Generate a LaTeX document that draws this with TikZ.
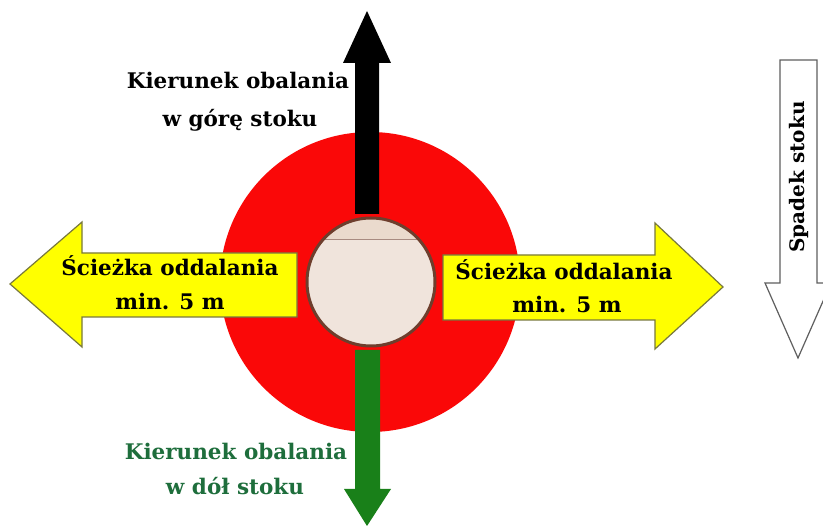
\documentclass[tikz,border=0pt]{standalone}
\usepackage{fontspec}
\setmainfont{DejaVu Serif}
\definecolor{redzone}{RGB}{250,8,8}
\definecolor{arrowgreen}{RGB}{25,128,25}
\definecolor{textgreen}{RGB}{30,110,60}
\definecolor{wood}{RGB}{240,228,220}
\definecolor{woodtop}{RGB}{234,218,205}
\definecolor{bark}{RGB}{110,62,45}
\definecolor{yellowarrow}{RGB}{255,255,0}
\definecolor{yellowedge}{RGB}{120,120,60}
\definecolor{grayedge}{RGB}{95,95,95}
\tikzset{
  lbl/.style={anchor=base, inner sep=0pt, font=\fontsize{21.5}{26}\selectfont\bfseries},
  yarrow/.style={fill=yellowarrow, draw=yellowedge, line width=1.2pt, line join=miter},
}
\begin{document}
\begin{tikzpicture}[x=1pt,y=-1pt]
\useasboundingbox (0,0) rectangle (823,526);
\fill[white] (0,0) rectangle (823,526);
% danger zone
\fill[redzone] (370,282) circle[radius=150];
% black arrow (uphill)
\fill[black] (355,214) -- (355,63) -- (343,63) -- (367,11) -- (391,63) -- (379,63) -- (379,214) -- cycle;
% green arrow (downhill)
\fill[arrowgreen] (355,350) -- (380,350) -- (380,489) -- (391,489) -- (367,526) -- (344,489) -- (355,489) -- cycle;
% stump
\coordinate (c) at (371,282);
\fill[wood] (c) circle[radius=64];
\begin{scope}
  \clip (c) circle[radius=64];
  \fill[woodtop] (300,210) rectangle (440,240);
  \draw[bark!60, line width=1pt] (300,240) -- (440,240);
\end{scope}
\draw[bark, line width=3pt] (c) circle[radius=64];
% yellow arrows
\filldraw[yarrow] (297,253) -- (82,253) -- (82,222) -- (10,284) -- (82,347) -- (82,317) -- (297,317) -- cycle;
\filldraw[yarrow] (443,255) -- (655,255) -- (655,223) -- (723,287) -- (655,349) -- (655,320) -- (443,320) -- cycle;
% slope arrow
\filldraw[fill=white, draw=grayedge, line width=1.2pt] (780,60) -- (817,60) -- (817,283) -- (831,283) -- (798,358) -- (765,283) -- (780,283) -- cycle;
% texts
\node[lbl] (up1) at (238,89) {Kierunek obalania};
\node[lbl] (up2) at (240,127) {w górę stoku};
\node[lbl, text=textgreen] (dn1) at (236,460) {Kierunek obalania};
\node[lbl, text=textgreen] (dn2) at (235,495) {w dół stoku};
\node[lbl] (l1) at (170,276) {Ścieżka oddalania};
\node[lbl] (l2) at (170,310) {min. 5 m};
\node[lbl] (r1) at (564,280) {Ścieżka oddalania};
\node[lbl] (r2) at (567,313) {min. 5 m};
\node[lbl, anchor=center, rotate=90, font=\fontsize{20}{24}\selectfont\bfseries] (sp) at (799,177) {Spadek stoku};
\end{tikzpicture}
\end{document}
